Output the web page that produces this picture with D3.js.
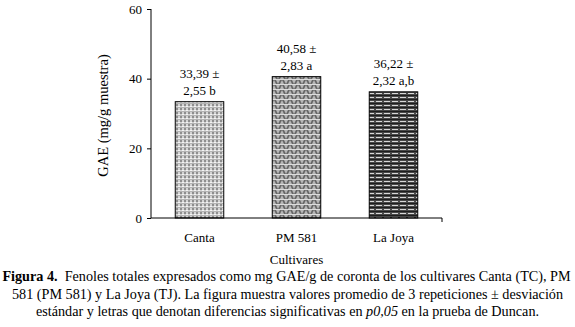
<!DOCTYPE html>
<html>
<head>
<meta charset="utf-8">
<script src="https://cdn.jsdelivr.net/npm/d3@7"></script>
<style>
  body { margin: 0; background: #fff; }
  svg text { font-family: "Liberation Serif", "Times New Roman", serif; fill: #000; }
</style>
</head>
<body>
<script>
// data
var cultivares = ["Canta", "PM 581", "La Joya"];
var medias = [33.39, 40.58, 36.22];
var etiquetas1 = ["33,39 \u00b1", "40,58 \u00b1", "36,22 \u00b1"];
var etiquetas2 = ["2,55 b", "2,83 a", "2,32 a,b"];
var yTicks = [0, 20, 40, 60];

function init(){
    var w = 575;
    var h = 327;

    var left = 151, right = 442, top = 9, bottom = 218;

    var svg = d3.select("body")
                .append("svg")
                .attr("width", w)
                .attr("height", h);

    // fill patterns for the bars
    var defs = svg.append("defs");

    var p1 = defs.append("pattern").attr("id", "pat0")
                .attr("patternUnits", "userSpaceOnUse").attr("width", 4).attr("height", 4);
    p1.append("rect").attr("width", 4).attr("height", 4).attr("fill", "#d4d4d4");
    p1.append("rect").attr("x", 0).attr("y", 0).attr("width", 2).attr("height", 2).attr("fill", "#8e8e8e");
    p1.append("rect").attr("x", 2).attr("y", 2).attr("width", 2).attr("height", 1).attr("fill", "#f4f4f4");
    p1.append("rect").attr("x", 0).attr("y", 3).attr("width", 4).attr("height", 1).attr("fill", "#b4b4b4");

    var p2 = defs.append("pattern").attr("id", "pat1")
                .attr("patternUnits", "userSpaceOnUse").attr("width", 8).attr("height", 5);
    p2.append("rect").attr("width", 8).attr("height", 5).attr("fill", "#666");
    p2.append("path").attr("d", "M0,4 L2,0 L4,4 Z M4,0 L6,4 L8,0 Z").attr("fill", "#b8b8b8");
    p2.append("rect").attr("x", 0).attr("y", 4).attr("width", 8).attr("height", 1).attr("fill", "#dcdcdc");

    var p3 = defs.append("pattern").attr("id", "pat2")
                .attr("patternUnits", "userSpaceOnUse").attr("width", 8).attr("height", 4);
    p3.append("rect").attr("width", 8).attr("height", 4).attr("fill", "#484848");
    p3.append("rect").attr("x", 0).attr("y", 1).attr("width", 6).attr("height", 1).attr("fill", "#d8d8d8");
    p3.append("rect").attr("x", 0).attr("y", 3).attr("width", 8).attr("height", 1).attr("fill", "#1e1e1e");

    var x = d3.scaleBand()
                .domain(cultivares)
                .range([left, right])
                .paddingInner(0.5)
                .paddingOuter(0.25);

    var y = d3.scaleLinear()
                .domain([0, 60])
                .range([bottom, top]);

    // bars
    svg.selectAll("rect.bar")
        .data(cultivares)
        .enter()
        .append("rect")
        .attr("class", "bar")
        .attr("x", function(d){ return x(d); })
        .attr("y", function(d, i){ return y(medias[i]); })
        .attr("width", x.bandwidth())
        .attr("height", function(d, i){ return y(0) - y(medias[i]); })
        .attr("fill", function(d, i){ return "url(#pat" + i + ")"; })
        .attr("stroke", "#000")
        .attr("stroke-width", 1);

    // value labels
    svg.selectAll("text.v1")
        .data(cultivares)
        .enter()
        .append("text")
        .attr("class", "v1")
        .attr("x", function(d){ return x(d) + x.bandwidth() / 2; })
        .attr("y", function(d, i){ return y(medias[i]) - 24; })
        .attr("text-anchor", "middle")
        .attr("font-size", 13)
        .text(function(d, i){ return etiquetas1[i]; });

    svg.selectAll("text.v2")
        .data(cultivares)
        .enter()
        .append("text")
        .attr("class", "v2")
        .attr("x", function(d){ return x(d) + x.bandwidth() / 2; })
        .attr("y", function(d, i){ return y(medias[i]) - 7; })
        .attr("text-anchor", "middle")
        .attr("font-size", 13)
        .text(function(d, i){ return etiquetas2[i]; });

    // y axis
    var yAxis = svg.append("g")
        .attr("transform", "translate(" + left + ",0)")
        .call(d3.axisLeft(y).tickValues(yTicks).tickSize(4).tickPadding(5));
    yAxis.select(".domain").attr("d", "M0," + top + "V" + bottom);
    yAxis.selectAll("text").attr("font-size", 13).style("font-family", "Liberation Serif");

    // x axis
    var xAxis = svg.append("g")
        .attr("transform", "translate(0," + bottom + ")")
        .call(d3.axisBottom(x).tickSize(0).tickPadding(15));
    xAxis.select(".domain").attr("d", "M" + left + ",0H" + right + "V4");
    xAxis.selectAll("text").attr("font-size", 13).style("font-family", "Liberation Serif");

    // x axis title, placed under the category labels
    xAxis.append("text")
        .attr("x", (left + right) / 2)
        .attr("y", 46)
        .attr("text-anchor", "middle")
        .attr("font-size", 13)
        .style("fill", "#000")
        .style("font-family", "Liberation Serif")
        .text("Cultivares");

    // y axis title
    svg.append("text")
        .attr("transform", "translate(108," + ((top + bottom) / 2 + 2) + ") rotate(-90)")
        .attr("text-anchor", "middle")
        .attr("font-size", 14.5)
        .text("GAE (mg/g muestra)");

    // caption
    var c1 = svg.append("text").attr("x", w / 2 - 1).attr("y", 281)
        .attr("text-anchor", "middle").attr("font-size", 14.2);
    c1.append("tspan").attr("font-weight", "bold").text("Figura 4.");
    c1.append("tspan").text("\u00a0 Fenoles totales expresados como mg GAE/g de coronta de los cultivares Canta (TC), PM");

    svg.append("text").attr("x", w / 2).attr("y", 299)
        .attr("text-anchor", "middle").attr("font-size", 14.2)
        .text("581 (PM 581) y La Joya (TJ). La figura muestra valores promedio de 3 repeticiones \u00b1 desviaci\u00f3n");

    var c3 = svg.append("text").attr("x", w / 2).attr("y", 316)
        .attr("text-anchor", "middle").attr("font-size", 14.2);
    c3.append("tspan").text("est\u00e1ndar y letras que denotan diferencias significativas en ");
    c3.append("tspan").attr("font-style", "italic").text("p0,05");
    c3.append("tspan").text(" en la prueba de Duncan.");
}
window.onload = init;
</script>
</body>
</html>
